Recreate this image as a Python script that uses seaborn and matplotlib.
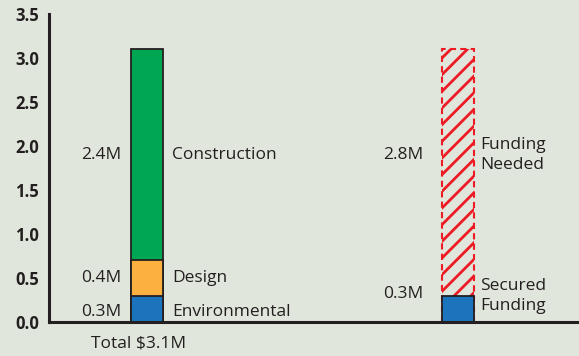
import matplotlib
matplotlib.use("Agg")
import matplotlib.pyplot as plt
import seaborn as sns
import pandas as pd

# Budget breakdown (left bar) and funding status (right bar), in $M
bars = ["Total $3.1M", "Funding"]
budget_segments = ["Environmental", "Design", "Construction"]
budget_values = [0.3, 0.4, 2.4]
funding_segments = ["Secured\nFunding", "Funding\nNeeded"]
funding_values = [0.3, 2.8]
value_labels_budget = ["0.3M", "0.4M", "2.4M"]
value_labels_funding = ["0.3M", "2.8M"]
y_ticks = [0.0, 0.5, 1.0, 1.5, 2.0, 2.5, 3.0, 3.5]

BG = "#e1e6dc"
INK = "#231f20"
colors_budget = ["#1c75bc", "#fbb040", "#00a651"]
color_secured = "#1c75bc"
color_needed = "#ed1c24"

sns.set_theme(style="white")
plt.rcParams["font.family"] = ["Open Sans", "DejaVu Sans"]
plt.rcParams["hatch.linewidth"] = 2.0

rows = []
for seg, val in zip(budget_segments, budget_values):
    rows.append((bars[0], seg, val))
for seg, val in zip(funding_segments, funding_values):
    rows.append((bars[1], seg, val))
df = pd.DataFrame(rows, columns=["bar", "segment", "value"])
df["top"] = df.groupby("bar")["value"].cumsum()

fig = plt.figure(figsize=(5.79, 3.56), dpi=100, facecolor=BG)
ax = fig.add_axes([0.0846, 0.0955, 0.9154, 0.8652])
ax.set_facecolor(BG)

W = 0.103

# Stacked bars drawn from the tallest cumulative total downward
left = df[df["bar"] == bars[0]].reset_index(drop=True)
for i in reversed(range(len(left))):
    sns.barplot(data=left.iloc[[i]], x="bar", y="top", order=bars, ax=ax,
                color=colors_budget[i], saturation=1, width=W, errorbar=None,
                edgecolor=INK, linewidth=1.3)

right = df[df["bar"] == bars[1]].reset_index(drop=True)
n_before = len(ax.patches)
sns.barplot(data=right.iloc[[1]], x="bar", y="top", order=bars, ax=ax,
            color=color_needed, saturation=1, width=W, errorbar=None,
            edgecolor=color_needed, linewidth=1.5)
for p in ax.patches[n_before:]:
    p.set_facecolor("none")
    p.set_hatch("//")
    p.set_linestyle((0, (3, 2)))
sns.barplot(data=right.iloc[[0]], x="bar", y="top", order=bars, ax=ax,
            color=color_secured, saturation=1, width=W, errorbar=None,
            edgecolor=INK, linewidth=1.3)

# Segment annotations: value on the left, name on the right
label_y_budget = [0.11, 0.5, 1.9]
fs = 12.5
for k in range(len(left)):
    yv = label_y_budget[k]
    ax.text(0 - W / 2 - 0.03, yv, value_labels_budget[k], ha="right", va="center",
            fontsize=fs, color=INK)
    ax.text(0 + W / 2 + 0.03, yv, left.loc[k, "segment"], ha="left", va="center",
            fontsize=fs, color=INK)

label_y_funding = [0.3, 1.9]
for k in range(len(right)):
    yv = label_y_funding[k]
    ax.text(1 - W / 2 - 0.06, yv + (0.02 if k == 0 else 0.0), value_labels_funding[k],
            ha="right", va="center", fontsize=fs, color=INK)
    ax.text(1 + W / 2 + 0.02, yv, right.loc[k, "segment"], ha="left", va="center",
            fontsize=fs, color=INK, linespacing=1.35)

ax.text(-0.026, -0.24, bars[0], ha="center", va="center", fontsize=fs, color=INK)

ax.set_xlim(-0.316, 1.391)
ax.set_ylim(0, 3.5)
ax.set_yticks(y_ticks)
ax.set_yticklabels([f"{t:.1f}" for t in y_ticks], fontweight="bold", fontsize=12, color=INK)
ax.set_xticks([])
ax.set_xlabel("")
ax.set_ylabel("")
ax.tick_params(axis="y", direction="in", length=10, width=2.4, color=INK, pad=7)
for s in ["top", "right"]:
    ax.spines[s].set_visible(False)
for s in ["left", "bottom"]:
    ax.spines[s].set_color(INK)
    ax.spines[s].set_linewidth(2.2)

fig.savefig("out.png", dpi=100, facecolor=BG)
